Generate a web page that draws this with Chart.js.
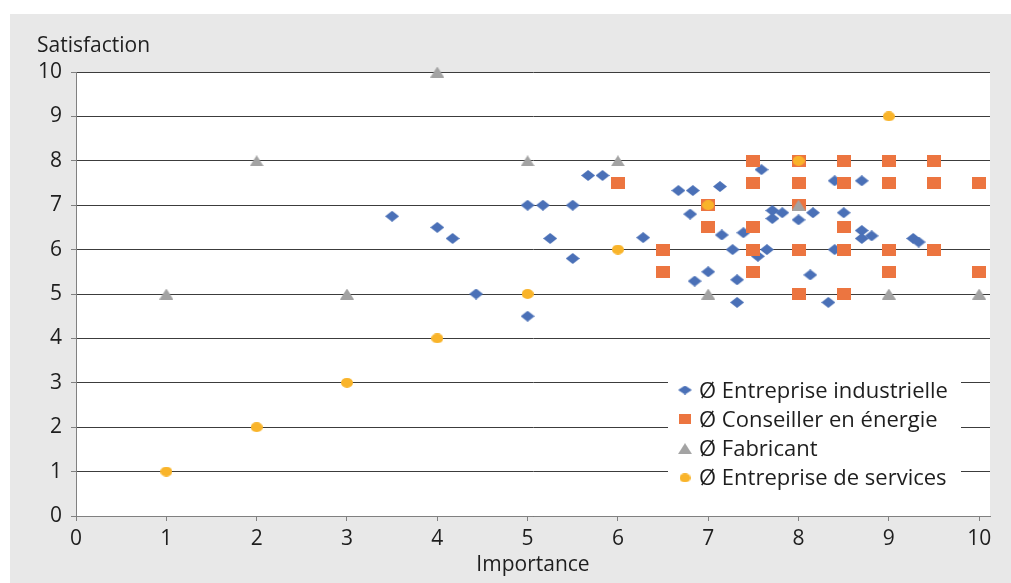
<!DOCTYPE html>
<html>
<head>
<meta charset="utf-8">
<script src="https://cdn.jsdelivr.net/npm/chart.js@4"></script>
<style>
    html, body { margin: 0; padding: 0; background: #fff; }
    #wrap { width: 1011px; height: 583px; }
</style>
</head>
<body>
<div id="wrap"><canvas id="scatterChart" width="1011" height="583"></canvas></div>
<script>
// Chart data
const xTicks = [0, 1, 2, 3, 4, 5, 6, 7, 8, 9, 10];

const seriesNames = [
    'Ø Entreprise industrielle',
    'Ø Conseiller en énergie',
    'Ø Fabricant',
    'Ø Entreprise de services'
];

const industrielleX = [3.5, 4, 4.17, 4.43, 5, 5, 5.17, 5.25, 5.5, 5.5, 5.67, 5.83, 6.28, 6.67, 6.83,
    6.8, 6.85, 7, 7.13, 7.15, 7.27, 7.32, 7.32, 7.39, 7.59, 7.55, 7.65, 7.71, 7.71, 7.82,
    8, 8.16, 8.13, 8.33, 8.4, 8.7, 8.5, 8.7, 8.7, 8.81, 8.4, 8.5, 9.27, 9.33];
const industrielleY = [6.75, 6.5, 6.25, 5, 7, 4.5, 7, 6.25, 7, 5.8, 7.67, 7.67, 6.27, 7.33, 7.33,
    6.8, 5.29, 5.5, 7.42, 6.33, 6, 5.32, 4.81, 6.38, 7.8, 5.85, 6, 6.88, 6.7, 6.83,
    6.67, 6.83, 5.43, 4.81, 7.55, 7.55, 6.83, 6.43, 6.25, 6.31, 6, 6, 6.25, 6.17];

const conseillerX = [6, 6.5, 6.5, 7, 7, 7.5, 7.5, 7.5, 7.5, 7.5, 8, 8, 8, 8, 8,
    8.5, 8.5, 8.5, 8.5, 8.5, 9, 9, 9, 9, 9.5, 9.5, 9.5, 10, 10];
const conseillerY = [7.5, 6, 5.5, 7, 6.5, 8, 7.5, 6.5, 6, 5.5, 8, 7.5, 7, 6, 5,
    8, 7.5, 6.5, 6, 5, 8, 7.5, 6, 5.5, 8, 7.5, 6, 7.5, 5.5];

const fabricantX = [1, 2, 3, 4, 5, 6, 7, 8, 9, 10];
const fabricantY = [5, 8, 5, 10, 8, 8, 5, 7, 5, 5];

const servicesX = [1, 2, 3, 4, 5, 6, 7, 8, 9];
const servicesY = [1, 2, 3, 4, 5, 6, 7, 8, 9];

// Styling
const TEXT_COLOR = '#1e1e1e';
const FONT_FAMILY = "'Open Sans', sans-serif";
const COLORS = ['#4A70B7', '#EC7540', '#A3A3A3', '#F9B42A'];

document.addEventListener('DOMContentLoaded', function() {
    initializeScatterChart();
});

function toPoints(xs, ys) {
    return xs.map((x, i) => ({ x: x, y: ys[i] }));
}

// small canvases used as point styles (markers are slightly wider than tall)
function makeMarker(shape, color, w, h) {
    const c = document.createElement('canvas');
    c.width = w;
    c.height = h;
    const ctx = c.getContext('2d');
    ctx.fillStyle = color;
    ctx.beginPath();
    if (shape === 'diamond') {
        ctx.moveTo(w / 2, 0);
        ctx.lineTo(w, h / 2);
        ctx.lineTo(w / 2, h);
        ctx.lineTo(0, h / 2);
    } else if (shape === 'square') {
        ctx.rect(0, 0, w, h);
    } else if (shape === 'triangle') {
        ctx.moveTo(w / 2, 0);
        ctx.lineTo(w, h);
        ctx.lineTo(0, h);
    } else {
        ctx.ellipse(w / 2, h / 2, w / 2, h / 2, 0, 0, Math.PI * 2);
    }
    ctx.closePath();
    ctx.fill();
    return c;
}

function initializeScatterChart() {
    const markers = [
        makeMarker('diamond', COLORS[0], 14, 11),
        makeMarker('square', COLORS[1], 14, 12),
        makeMarker('triangle', COLORS[2], 14, 11),
        makeMarker('ellipse', COLORS[3], 12, 10)
    ];
    const legendMarkers = [
        makeMarker('diamond', COLORS[0], 14, 9),
        makeMarker('square', COLORS[1], 12, 10),
        makeMarker('triangle', COLORS[2], 14, 11),
        makeMarker('ellipse', COLORS[3], 11, 9)
    ];

    const panelPlugin = {
        id: 'panel',
        beforeDraw(chart) {
            const { ctx, chartArea } = chart;
            ctx.save();
            ctx.fillStyle = '#ffffff';
            ctx.fillRect(0, 0, chart.width, chart.height);
            ctx.fillStyle = '#e8e8e8';
            ctx.fillRect(10, 14, chart.width - 10, chart.height - 14);
            ctx.fillStyle = '#ffffff';
            ctx.fillRect(chartArea.left, chartArea.top,
                chartArea.right - chartArea.left, chartArea.bottom - chartArea.top);
            ctx.restore();
        },
        afterDraw(chart) {
            const ctx = chart.ctx;
            ctx.save();
            // y axis title above the axis
            ctx.font = '21px ' + FONT_FAMILY;
            ctx.fillStyle = TEXT_COLOR;
            ctx.textAlign = 'left';
            ctx.textBaseline = 'alphabetic';
            ctx.fillText('Satisfaction', 37, 52);

            // legend box inside plot
            ctx.fillStyle = '#ffffff';
            ctx.fillRect(668, 373, 293, 121);
            ctx.font = '22px ' + FONT_FAMILY;
            seriesNames.forEach((name, i) => {
                const cy = 390 + i * 29.3;
                const m = legendMarkers[i];
                ctx.drawImage(m, 685 - m.width / 2, cy - m.height / 2);
                ctx.fillStyle = TEXT_COLOR;
                ctx.fillText(name, 699, cy + 7.5);
            });
            ctx.restore();
        }
    };

    const datasets = [
        { label: seriesNames[0], data: toPoints(industrielleX, industrielleY), order: 4 },
        { label: seriesNames[1], data: toPoints(conseillerX, conseillerY), order: 3 },
        { label: seriesNames[2], data: toPoints(fabricantX, fabricantY), order: 2 },
        { label: seriesNames[3], data: toPoints(servicesX, servicesY), order: 1 }
    ].map((ds, i) => Object.assign(ds, {
        pointStyle: markers[i],
        pointRadius: 7,
        backgroundColor: COLORS[i],
        borderColor: COLORS[i],
        showLine: false,
        clip: false
    }));

    const tickFont = { family: FONT_FAMILY, size: 21 };

    new Chart(document.getElementById('scatterChart'), {
        type: 'scatter',
        data: { datasets: datasets },
        options: {
            responsive: false,
            devicePixelRatio: 1,
            animation: false,
            events: [],
            layout: { padding: { left: 0, top: 72, right: 21, bottom: 0 } },
            plugins: {
                legend: { display: false },
                tooltip: { enabled: false }
            },
            scales: {
                x: {
                    type: 'linear',
                    min: 0,
                    max: 10.12,
                    afterBuildTicks: axis => { axis.ticks = xTicks.map(v => ({ value: v })); },
                    afterFit: axis => { axis.height = 67; },
                    ticks: { font: tickFont, color: TEXT_COLOR, padding: 5, maxRotation: 0, autoSkip: false },
                    grid: { drawOnChartArea: false, drawTicks: true, tickLength: 5, tickColor: '#808080' },
                    border: { color: '#808080', width: 1 },
                    title: {
                        display: true,
                        text: 'Importance',
                        font: tickFont,
                        color: TEXT_COLOR,
                        padding: { top: 0, bottom: 5 }
                    }
                },
                y: {
                    min: 0,
                    max: 10,
                    afterFit: axis => { axis.width = 76; },
                    ticks: { stepSize: 1, font: tickFont, color: TEXT_COLOR, padding: 9 },
                    grid: { color: '#3c3c3c', lineWidth: 1, tickLength: 5, tickColor: '#808080' },
                    border: { color: '#808080', width: 1 }
                }
            }
        },
        plugins: [panelPlugin]
    });
}
</script>
</body>
</html>
